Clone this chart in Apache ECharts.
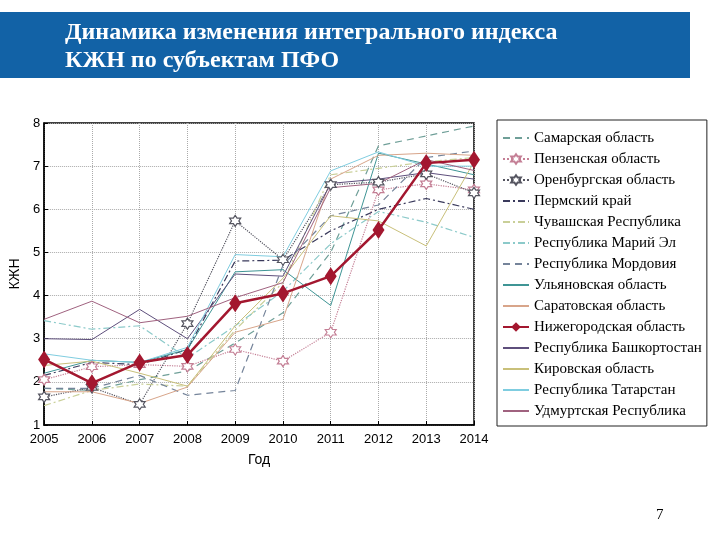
<!DOCTYPE html>
<html>
<head>
<meta charset="utf-8">
<title>Динамика изменения интегрального индекса КЖН</title>
<script src="https://cdn.jsdelivr.net/npm/echarts@6/dist/echarts.min.js"></script>
<style>
  html, body { margin: 0; padding: 0; background: #fff; }
  #chart { width: 720px; height: 540px; }
</style>
</head>
<body>
<div id="chart"></div>
<script>
// годы и значения индекса КЖН
const years = ["2005", "2006", "2007", "2008", "2009", "2010", "2011", "2012", "2013", "2014"];
const yTicks = [1, 8, 1]; // min, max, шаг

const samara = [1.85, 1.8, 2.05, 2.25, 2.9, 3.6, 5.0, 7.47, 7.7, 7.93];
const penza = [2.05, 2.35, 2.4, 2.36, 2.75, 2.48, 3.15, 6.45, 6.59, 6.45];
const orenburg = [1.65, 1.87, 1.48, 3.35, 5.73, 4.83, 6.57, 6.63, 6.82, 6.38];
const perm = [2.15, 2.45, 2.4, 2.75, 4.8, 4.82, 5.5, 6.0, 6.25, 6.0];
const chuvash = [1.45, 1.8, 1.95, 1.9, 3.2, 4.3, 6.8, 6.95, 7.1, 7.2];
const mariEl = [3.42, 3.22, 3.3, 2.55, 3.3, 4.1, 5.2, 5.95, 5.7, 5.35];
const mordovia = [1.85, 1.85, 2.15, 1.69, 1.8, 4.7, 5.85, 6.1, 7.2, 7.35];
const ulyanovsk = [2.2, 2.5, 2.45, 2.75, 4.55, 4.6, 3.77, 7.3, 7.05, 6.8];
const saratov = [1.77, 1.77, 1.5, 1.88, 3.15, 3.45, 6.7, 7.25, 7.3, 7.25];
const nizhny = [2.52, 1.97, 2.45, 2.62, 3.82, 4.05, 4.45, 5.52, 7.07, 7.15];
const bashkortostan = [3.0, 2.98, 3.68, 3.0, 4.5, 4.45, 6.6, 6.7, 6.85, 6.7];
const kirov = [2.38, 2.48, 2.2, 1.9, 3.3, 4.4, 5.85, 5.73, 5.15, 7.1];
const tatarstan = [2.65, 2.5, 2.45, 2.8, 4.95, 4.9, 6.89, 7.33, 7.0, 7.0];
const udmurtia = [3.45, 3.87, 3.37, 3.52, 3.95, 4.3, 6.5, 6.6, 7.15, 6.9];

// шестиконечная звёздочка как маркер
const star = "path://M0,-10 L2.89,-5 L8.66,-5 L5.77,0 L8.66,5 L2.89,5 L0,10 L-2.89,5 L-8.66,5 L-5.77,0 L-8.66,-5 L-2.89,-5 Z";

function line(name, data, color, type, width) {
  return {
    name: name,
    type: "line",
    data: data,
    symbol: "none",
    lineStyle: { color: color, type: type, width: width || 1 },
    itemStyle: { color: color },
    emphasis: { disabled: true },
  };
}

function starLine(name, data, color) {
  let s = line(name, data, color, "dotted", 1.2);
  s.symbol = star;
  s.symbolSize = 11;
  s.itemStyle = { color: "#fff", borderColor: color, borderWidth: 1.2 };
  return s;
}

let nizhnySeries = line("Нижегородская область", nizhny, "#a3172f", "solid", 2.5);
nizhnySeries.symbol = "diamond";
nizhnySeries.symbolSize = [12, 18];
nizhnySeries.itemStyle = { color: "#a3172f" };
nizhnySeries.z = 10;

let series = [
  line("Самарская область", samara, "#6f9f98", [7, 5], 1.2),
  starLine("Пензенская область", penza, "#c47f95"),
  starLine("Оренбургская область", orenburg, "#555560"),
  line("Пермский край", perm, "#3a3a5c", [7, 3, 2, 3], 1.2),
  line("Чувашская Республика", chuvash, "#c9cf98", [7, 3, 2, 3], 1.2),
  line("Республика Марий Эл", mariEl, "#8ccaca", [7, 3, 2, 3], 1.2),
  line("Республика Мордовия", mordovia, "#75849a", [7, 5], 1.2),
  line("Ульяновская область", ulyanovsk, "#3f9595", "solid", 1),
  line("Саратовская область", saratov, "#d8a58a", "solid", 1),
  nizhnySeries,
  line("Республика Башкортостан", bashkortostan, "#5e4f7c", "solid", 1),
  line("Кировская область", kirov, "#c9c07a", "solid", 1),
  line("Республика Татарстан", tatarstan, "#7fcde0", "solid", 1),
  line("Удмуртская Республика", udmurtia, "#a0627f", "solid", 1),
];

// в легенде у линий без маркеров прячем кружок
let legendData = series.map(function (s) {
  if (s.symbol === "none") {
    return { name: s.name, itemStyle: { opacity: 0 } };
  }
  return { name: s.name };
});

let myChart = echarts.init(document.getElementById("chart"));
window.addEventListener("resize", function () {
  myChart.resize();
});

myChart.setOption({
  animation: false,
  backgroundColor: "#fff",
  graphic: [
    {
      type: "rect",
      shape: { x: 0, y: 12, width: 690, height: 66 },
      style: { fill: "#1262a6" },
    },
    {
      type: "text",
      left: 65,
      top: 19,
      style: {
        text: "Динамика изменения интегрального индекса\nКЖН по субъектам ПФО",
        fill: "#fff",
        font: "bold 24px 'Liberation Serif'",
        lineHeight: 28,
      },
    },
    {
      type: "text",
      left: 656,
      top: 508,
      style: { text: "7", fill: "#000", font: "15px 'Liberation Serif'" },
    },
  ],
  grid: {
    left: 41,
    right: 246,
    top: 123,
    bottom: 115,
    show: true,
    borderColor: "#000",
    borderWidth: 1.5,
  },
  legend: {
    orient: "vertical",
    left: 497,
    top: 120,
    padding: [10, 5, 7, 5],
    borderColor: "#222",
    borderWidth: 1,
    itemGap: 5,
    itemWidth: 26,
    itemHeight: 12,
    data: legendData,
    textStyle: {
      fontFamily: "Liberation Serif",
      fontSize: 15,
      lineHeight: 16,
      color: "#000",
    },
  },
  xAxis: {
    type: "category",
    data: years,
    boundaryGap: false,
    name: "Год",
    nameLocation: "middle",
    nameGap: 28,
    nameTextStyle: { fontFamily: "Liberation Sans", fontSize: 14, color: "#000" },
    axisLine: { lineStyle: { color: "#000", width: 1.5 } },
    axisTick: { inside: true, length: 4, lineStyle: { color: "#000" } },
    axisLabel: { fontFamily: "Liberation Sans", fontSize: 13, color: "#000", margin: 8 },
    splitLine: { show: true, lineStyle: { color: "#aaa", type: "dotted" } },
  },
  yAxis: {
    type: "value",
    min: yTicks[0],
    max: yTicks[1],
    interval: yTicks[2],
    name: "КЖН",
    nameLocation: "middle",
    nameGap: 20,
    nameRotate: 90,
    nameTextStyle: { fontFamily: "Liberation Sans", fontSize: 14, color: "#000" },
    axisLine: { show: true, lineStyle: { color: "#000", width: 1.5 } },
    axisTick: { show: true, inside: true, length: 4, lineStyle: { color: "#000" } },
    axisLabel: { fontFamily: "Liberation Sans", fontSize: 13, color: "#000", margin: 4 },
    splitLine: { show: true, lineStyle: { color: "#aaa", type: "dotted" } },
  },
  series: series,
});
</script>
</body>
</html>
